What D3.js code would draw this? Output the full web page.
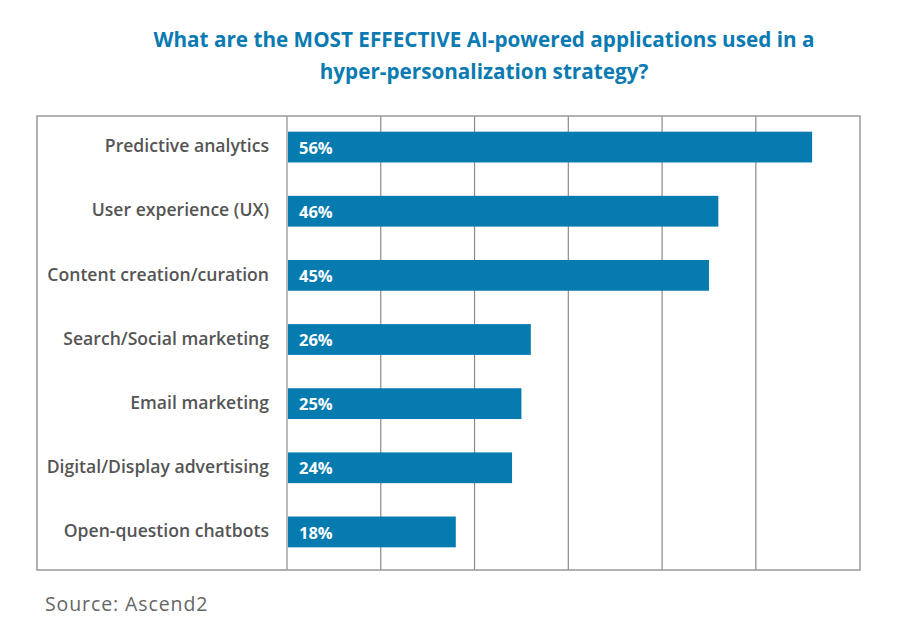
<!DOCTYPE html>
<html>
<head>
<meta charset="utf-8">
<script src="https://cdn.jsdelivr.net/npm/d3@7/dist/d3.min.js"></script>
<style>
  body { margin: 0; background: #fff; }
  svg { display: block; }
</style>
</head>
<body>
<div id="chart"></div>
<script>
// AI-powered applications bar chart

const categories = [
    "Predictive analytics",
    "User experience (UX)",
    "Content creation/curation",
    "Search/Social marketing",
    "Email marketing",
    "Digital/Display advertising",
    "Open-question chatbots"
];
const values = [56, 46, 45, 26, 25, 24, 18];
const gridTicks = [10, 20, 30, 40, 50];

const width = 903, height = 629;
const barColor = "#057bb0";
const fontFamily = "'Open Sans', 'DejaVu Sans', sans-serif";

const svg = d3.select("#chart")
    .append("svg")
    .attr("width", width)
    .attr("height", height);

// plot frame
const box = { left: 37, right: 860, top: 116, bottom: 570 };

const x = d3.scaleLinear()
    .domain([0, 61])
    .range([287, 859]);

const y = d3.scaleBand()
    .domain(categories)
    .range([115, 564])
    .paddingInner(0.52)
    .paddingOuter(0.26);

// title
const title = svg.append("text")
    .attr("text-anchor", "middle")
    .style("font-family", fontFamily)
    .style("font-size", "20.7px")
    .style("font-weight", "700")
    .style("fill", "#0a7ab2");
title.append("tspan").attr("x", 484).attr("y", 47)
    .text("What are the MOST EFFECTIVE AI-powered applications used in a");
title.append("tspan").attr("x", 484).attr("y", 79)
    .text("hyper-personalization strategy?");

// gridlines
svg.selectAll(".grid")
    .data(gridTicks)
    .enter()
    .append("line")
    .attr("class", "grid")
    .attr("x1", d => x(d))
    .attr("x2", d => x(d))
    .attr("y1", box.top)
    .attr("y2", box.bottom)
    .attr("stroke", "#8a8a8a")
    .attr("stroke-width", 1.2);

// axis line at zero
svg.append("line")
    .attr("x1", x(0)).attr("x2", x(0))
    .attr("y1", box.top).attr("y2", box.bottom)
    .attr("stroke", "#8a8a8a")
    .attr("stroke-width", 1.2);

svg.append("rect")
    .attr("x", box.left)
    .attr("y", box.top)
    .attr("width", box.right - box.left)
    .attr("height", box.bottom - box.top)
    .attr("fill", "none")
    .attr("stroke", "#999")
    .attr("stroke-width", 1.5);

// bars
svg.selectAll(".bar")
    .data(values)
    .enter()
    .append("rect")
    .attr("class", "bar")
    .attr("x", x(0) + 1)
    .attr("y", (d, i) => y(categories[i]))
    .attr("width", d => x(d) - x(0) - 1)
    .attr("height", y.bandwidth())
    .attr("fill", barColor);

// value labels
svg.selectAll(".val")
    .data(values)
    .enter()
    .append("text")
    .attr("class", "val")
    .attr("x", x(0) + 12)
    .attr("y", (d, i) => y(categories[i]) + y.bandwidth() / 2)
    .attr("dy", "0.4em")
    .style("font-family", fontFamily)
    .style("font-size", "16.5px")
    .style("font-weight", "700")
    .style("fill", "#fff")
    .text(d => d + "%");

// category labels
svg.selectAll(".cat")
    .data(categories)
    .enter()
    .append("text")
    .attr("class", "cat")
    .attr("x", 269)
    .attr("y", d => y(d) + y.bandwidth() / 2)
    .attr("dy", "0.3em")
    .attr("text-anchor", "end")
    .style("font-family", fontFamily)
    .style("font-size", "17.6px")
    .style("font-weight", "600")
    .style("fill", "#555")
    .text(d => d);

// source
svg.append("text")
    .attr("x", 45)
    .attr("y", 611)
    .style("font-family", fontFamily)
    .style("font-size", "19.5px")
    .style("letter-spacing", "0.9px")
    .style("fill", "#666")
    .text("Source: Ascend2");
</script>
</body>
</html>
